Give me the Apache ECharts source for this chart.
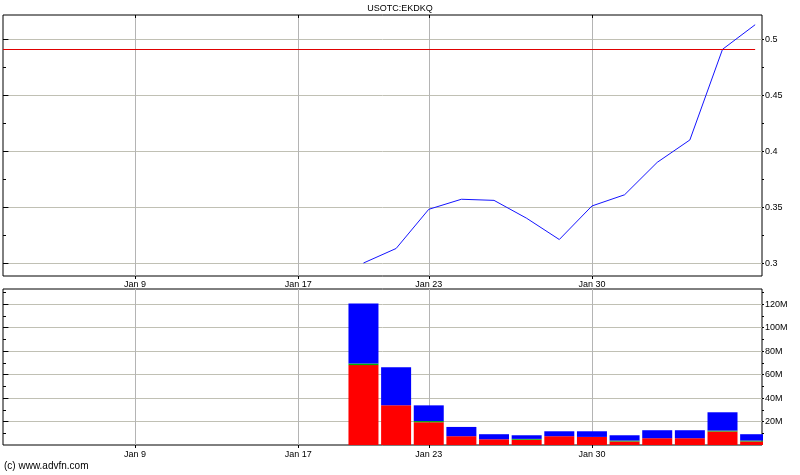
<!DOCTYPE html>
<html>
<head>
<meta charset="utf-8">
<script src="https://cdn.jsdelivr.net/npm/echarts@6/dist/echarts.min.js"></script>
<style>
html,body{margin:0;padding:0;background:#fff;}
#chart{width:800px;height:475px;}
</style>
</head>
<body>
<div id="chart"></div>
<script>
// Trading days shown on the x axis (index = position)
const tradingDays = ['Jan 3','Jan 4','Jan 5','Jan 6','Jan 9','Jan 10','Jan 11','Jan 12','Jan 13',
  'Jan 17','Jan 18','Jan 19','Jan 20','Jan 23','Jan 24','Jan 25','Jan 26','Jan 27',
  'Jan 30','Jan 31','Feb 1','Feb 2','Feb 3','Feb 6'];
const xTickLabels = ['Jan 9','Jan 17','Jan 23','Jan 30'];
// Data starts on this day
const firstDataDay = 'Jan 19';
const price = [0.300, 0.313, 0.348, 0.357, 0.356, 0.340, 0.321, 0.351, 0.361, 0.390, 0.410, 0.491, 0.513];
const refPrice = 0.491;
// Volumes in millions
const volRed   = [68.1, 33.8, 19.4, 7.5, 4.9, 4.5, 7.5, 6.9, 3.0, 5.8, 5.8, 11.5, 3.0];
const volGreen = [1.4, 0, 1.0, 0, 0, 0.7, 0, 0, 0.8, 0, 0, 0.8, 0.8];
const volBlue  = [51.1, 32.4, 13.4, 7.9, 4.3, 3.1, 4.2, 4.8, 4.5, 6.8, 6.8, 15.6, 5.4];
const priceTicks = [0.3, 0.35, 0.4, 0.45, 0.5];
const priceMinorTicks = [0.3, 0.325, 0.35, 0.375, 0.4, 0.425, 0.45, 0.475, 0.5];
const volTicks = [20, 40, 60, 80, 100, 120];
const volMinorTicks = [10, 20, 30, 40, 50, 60, 70, 80, 90, 100, 110, 120, 130];

const offset = tradingDays.indexOf(firstDataDay);
const xTickIdx = xTickLabels.map(d => tradingDays.indexOf(d));
const xMin = -0.044, xMax = 23.21;
const pMin = 0.2884, pMax = 0.5217;
const vMin = 0, vMax = 133;

const FONT = "'Liberation Sans', Arial, sans-serif";
const gridColor = '#c0c0b4';
const vGridColor = '#b4b4b4';

function xAxes(gi) {
  return [{
    gridIndex: gi, type: 'value', position: 'bottom', min: xMin, max: xMax, z: 0,
    axisLine: {show: false},
    axisTick: {show: true, customValues: xTickIdx, inside: false, length: 3, lineStyle: {color: '#000'}},
    axisLabel: {show: true, customValues: xTickIdx, formatter: v => tradingDays[Math.round(v)],
      fontSize: 9, fontFamily: FONT, color: '#000', margin: gi === 0 ? 4 : 5},
    splitLine: {show: true, lineStyle: {color: vGridColor, width: 1}}
  }, {
    gridIndex: gi, type: 'value', position: 'top', min: xMin, max: xMax, z: 0,
    axisLine: {show: false},
    axisTick: {show: true, customValues: xTickIdx, inside: true, length: 3, lineStyle: {color: '#000'}},
    axisLabel: {show: false}, splitLine: {show: false}
  }];
}
function yAxes(gi, mn, mx, major, minor, fmt) {
  return [{
    // gridlines only, drawn beneath the series
    gridIndex: gi, type: 'value', position: 'right', min: mn, max: mx, z: 0,
    axisLine: {show: false},
    axisTick: {show: false, customValues: major},
    axisLabel: {show: false, customValues: major},
    splitLine: {show: true, lineStyle: {color: gridColor, width: 1}}
  }, {
    gridIndex: gi, type: 'value', position: 'right', min: mn, max: mx, z: 10,
    axisLine: {show: false},
    axisTick: {show: true, customValues: major, inside: false, length: 4, lineStyle: {color: '#000'}},
    axisLabel: {show: true, customValues: major, formatter: fmt, fontSize: 9, fontFamily: FONT, color: '#000', margin: 3},
    splitLine: {show: false}
  }, {
    gridIndex: gi, type: 'value', position: 'right', min: mn, max: mx, z: 10,
    axisLine: {show: false},
    axisTick: {show: true, customValues: minor, inside: false, length: 2, lineStyle: {color: '#000'}},
    axisLabel: {show: false}, splitLine: {show: false}
  }, {
    gridIndex: gi, type: 'value', position: 'left', min: mn, max: mx, z: 0,
    axisLine: {show: false},
    axisTick: {show: true, customValues: minor, inside: true, length: 3, lineStyle: {color: '#000'}},
    axisLabel: {show: false}, splitLine: {show: false}
  }];
}

const linePts = price.map((v, i) => [offset + i, v]);
// volume first, index second, so stacking happens on the volume dimension
const red = volRed.map((v, i) => [v, offset + i]);
const green = volGreen.map((v, i) => [v, offset + i]);
const blue = volBlue.map((v, i) => [v, offset + i]);

function volSeries(data, color) {
  return {type: 'bar', xAxisIndex: 2, yAxisIndex: 4, stack: 'vol', data: data, barWidth: 30,
    clip: true, dimensions: ['vol', 'idx'], encode: {x: 'idx', y: 'vol'},
    itemStyle: {color: color}, silent: true};
}

const chart = echarts.init(document.getElementById('chart'), null, {renderer: 'canvas'});
chart.setOption({
  animation: false,
  backgroundColor: '#fff',
  title: {text: 'USOTC:EKDKQ', left: 'center', top: 4, padding: 0,
    textStyle: {fontSize: 9, fontWeight: 'normal', fontFamily: FONT, color: '#000'}},
  grid: [
    {left: 3, right: 38, top: 15, height: 261, show: true, borderColor: '#000', borderWidth: 1, backgroundColor: 'transparent'},
    {left: 3, right: 38, top: 289, height: 156, show: true, borderColor: '#000', borderWidth: 1, backgroundColor: 'transparent'}
  ],
  xAxis: [...xAxes(0), ...xAxes(1)],
  yAxis: [
    ...yAxes(0, pMin, pMax, priceTicks, priceMinorTicks, v => String(v)),
    ...yAxes(1, vMin, vMax, volTicks, volMinorTicks, v => v + 'M')
  ],
  series: [
    {type: 'line', xAxisIndex: 0, yAxisIndex: 0, data: linePts, showSymbol: false, symbol: 'none',
      lineStyle: {color: '#1414ff', width: 1}, silent: true,
      markLine: {silent: true, symbol: 'none', label: {show: false},
        lineStyle: {color: '#e00000', width: 1, type: 'solid'},
        data: [[{coord: [xMin, refPrice]}, {coord: [tradingDays.length - 1, refPrice]}]]}},
    volSeries(red, '#ff0000'),
    volSeries(green, '#00b000'),
    volSeries(blue, '#0000ff')
  ],
  graphic: [
    // white mask hiding the part of the last volume bar that runs past the panel frame
    {type: 'rect', z: 5, silent: true, shape: {x: 763, y: 289, width: 30, height: 157}, style: {fill: '#fff'}},
    {type: 'text', left: 4, top: 461, z: 5,
      style: {text: '(c) www.advfn.com', fontSize: 10, fontFamily: FONT, fill: '#000'}}
  ]
});
</script>
</body>
</html>
